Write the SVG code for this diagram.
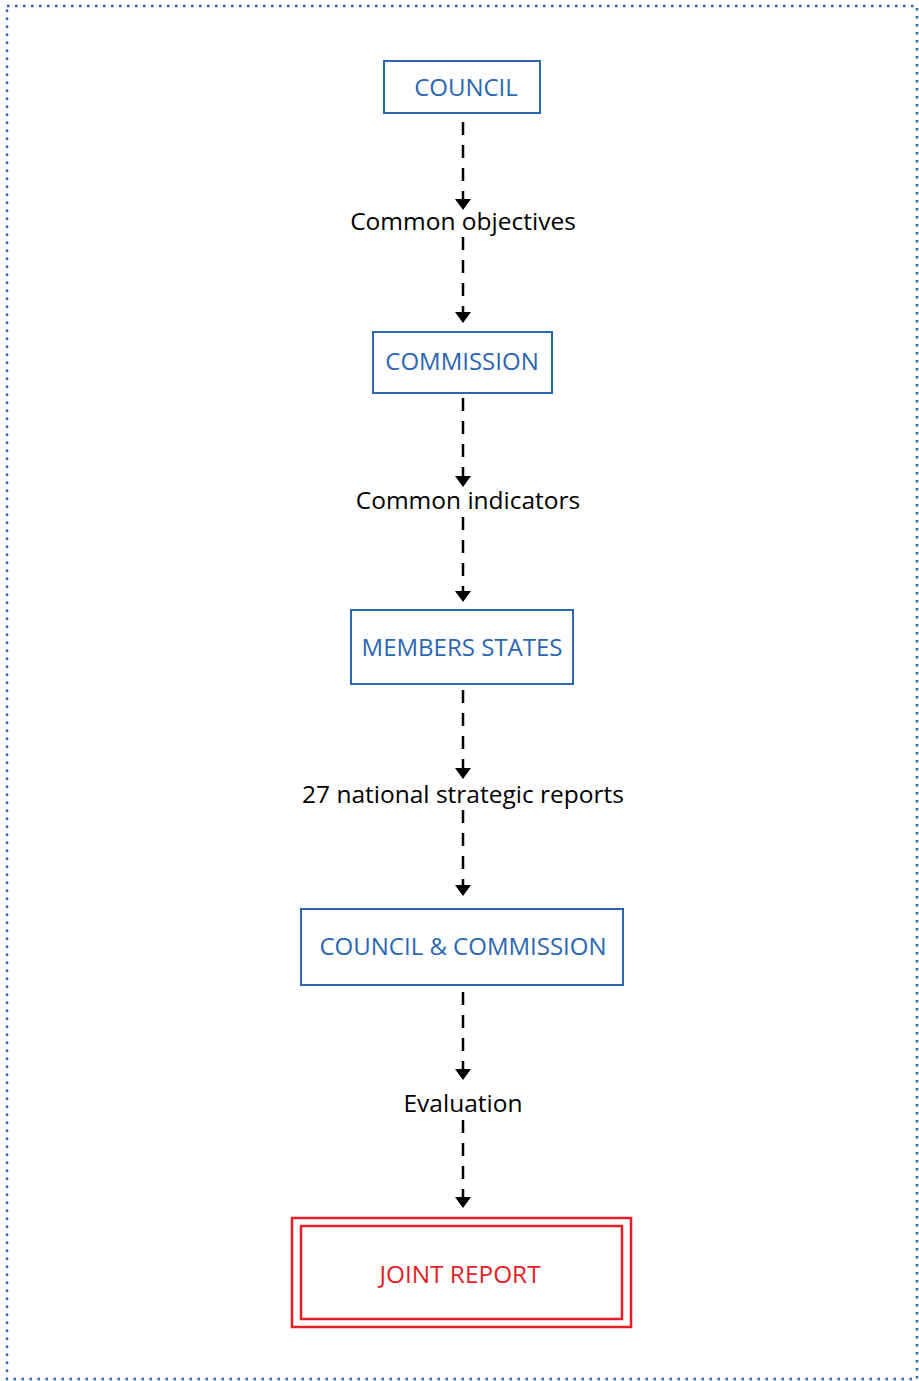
<svg xmlns="http://www.w3.org/2000/svg" width="919" height="1381" viewBox="0 0 919 1381">
<style>
.box{fill:#fff;stroke:#2a66b2;stroke-width:2}
.red{fill:none;stroke:#e41e26;stroke-width:2.5}
.nt{font-family:"Open Sans","Noto Sans",sans-serif;font-size:24px;fill:#2a66b2;text-anchor:middle}
.rt{font-family:"Open Sans","Noto Sans",sans-serif;font-size:24.4px;fill:#e41e26;text-anchor:middle}
.lb{font-family:"Open Sans","Noto Sans",sans-serif;font-size:24.5px;fill:#000;text-anchor:middle}
.dash{stroke:#000;stroke-width:2.5;stroke-dasharray:13 10;fill:none}
</style>
<rect x="7" y="6" width="910" height="1373" fill="none" stroke="#2a66b2" stroke-width="2.5" stroke-dasharray="2.5 5.5"/>
<g id="connectors">
<line class="dash" x1="463" y1="122" x2="463" y2="200"/><polygon points="455,199 471,199 463,210"/>
<line class="dash" x1="463" y1="237" x2="463" y2="313"/><polygon points="455,312 471,312 463,323"/>
<line class="dash" x1="463" y1="398" x2="463" y2="477"/><polygon points="455,476 471,476 463,487"/>
<line class="dash" x1="463" y1="517" x2="463" y2="592"/><polygon points="455,591 471,591 463,602"/>
<line class="dash" x1="463" y1="690" x2="463" y2="769"/><polygon points="455,768 471,768 463,779"/>
<line class="dash" x1="463" y1="810" x2="463" y2="886"/><polygon points="455,885 471,885 463,896"/>
<line class="dash" x1="463" y1="992" x2="463" y2="1070"/><polygon points="455,1069 471,1069 463,1080"/>
<line class="dash" x1="463" y1="1120" x2="463" y2="1198"/><polygon points="455,1197 471,1197 463,1208"/>
</g>
<g id="label-objectives"><text class="lb" x="463" y="230">Common objectives</text></g>
<g id="label-indicators"><text class="lb" x="468" y="509">Common indicators</text></g>
<g id="label-reports"><text class="lb" x="463" y="803">27 national strategic reports</text></g>
<g id="label-evaluation"><text class="lb" x="463" y="1112">Evaluation</text></g>
<g id="council"><rect class="box" x="384" y="61" width="156" height="52"/><text class="nt" x="466" y="96">COUNCIL</text></g>
<g id="commission"><rect class="box" x="373" y="332" width="179" height="61"/><text class="nt" x="462" y="370">COMMISSION</text></g>
<g id="members"><rect class="box" x="351" y="610" width="222" height="74"/><text class="nt" x="462" y="656">MEMBERS STATES</text></g>
<g id="council-commission"><rect class="box" x="301" y="909" width="322" height="76"/><text class="nt" x="463" y="955">COUNCIL &amp; COMMISSION</text></g>
<g id="joint-report"><rect class="red" x="292" y="1218" width="339" height="109"/><rect class="red" x="301" y="1226" width="321" height="93"/><text class="rt" x="460" y="1283">JOINT REPORT</text></g>
</svg>
